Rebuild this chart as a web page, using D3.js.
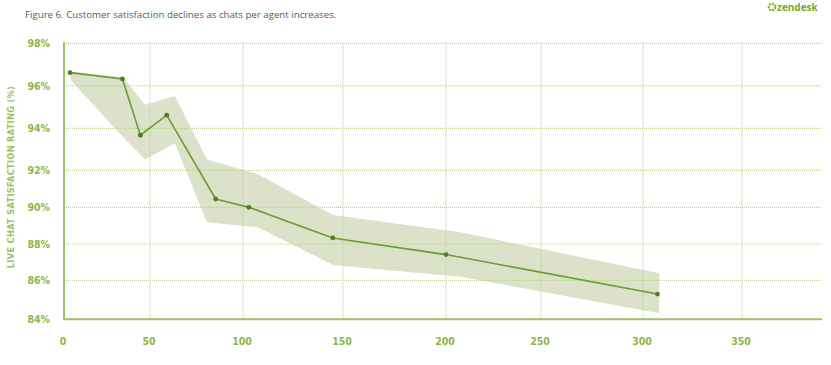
<!DOCTYPE html>
<html>
<head>
<meta charset="utf-8">
<script src="https://cdn.jsdelivr.net/npm/d3@7"></script>
<style>
  html, body { margin: 0; padding: 0; background: #fff; }
  svg { display: block; }
</style>
</head>
<body>
<svg id="chart" width="831" height="365"></svg>
<script>
// ---- data ----
const xTicks = [0, 50, 100, 150, 200, 250, 300, 350];
const yTicks = [84, 86, 88, 90, 92, 94, 96, 98];
const chats = [3.5, 34, 44.4, 59, 85.3, 102.9, 144.9, 200, 307.3];
const satisfaction = [96.62, 96.32, 93.67, 94.62, 90.45, 90.0, 88.33, 87.42, 85.30];
const bandChats = [3.8, 34.3, 47.1, 63.4, 80.6, 107.3, 145, 208.4, 308.2];
const bandHigh = [96.67, 96.40, 95.11, 95.52, 92.52, 91.80, 89.58, 88.62, 86.40];
const bandLow = [96.27, 93.59, 92.51, 93.29, 89.18, 88.91, 86.85, 86.19, 84.31];
const titleText = "Figure 6. Customer satisfaction declines as chats per agent increases.";
const yTitle = "LIVE CHAT SATISFACTION RATING (%)";

// ---- layout ----
const svg = d3.select("#chart");
const plotRight = 822;
const x = d3.scaleLinear().domain(xTicks).range([64, 150, 243, 343, 446, 541, 643, 742]);
const y = d3.scaleLinear().domain(yTicks).range([319.3, 280.5, 244, 207.3, 170.3, 128.3, 85.8, 43.3]);
const x0 = x(0), yTop = y(98), yBot = y(84);

const green = "#8db64a";
const gridColor = "#bcd394";

// band
const bandData = bandChats.map((c, i) => ({c, hi: bandHigh[i], lo: bandLow[i]}));
svg.append("path")
  .datum(bandData)
  .attr("d", d3.area().x(d => x(d.c)).y0(d => y(d.lo)).y1(d => y(d.hi)))
  .attr("fill", "#dce2c9");

// gridlines
const grid = svg.append("g");
grid.selectAll("line.h").data(yTicks.filter(t => t !== 84)).join("line")
  .attr("x1", x0).attr("x2", plotRight)
  .attr("y1", d => y(d)).attr("y2", d => y(d))
  .attr("stroke", gridColor).attr("stroke-width", 1.2).attr("stroke-dasharray", "1,1");
grid.selectAll("line.v").data(xTicks.filter(t => t !== 0)).join("line")
  .attr("x1", d => x(d)).attr("x2", d => x(d))
  .attr("y1", yTop).attr("y2", yBot)
  .attr("stroke", gridColor).attr("stroke-width", 1.2).attr("stroke-dasharray", "1,1");

// axes lines
svg.append("line").attr("x1", x0).attr("x2", x0).attr("y1", yTop - 1).attr("y2", yBot)
  .attr("stroke", "#9cc263").attr("stroke-width", 2);
svg.append("line").attr("x1", x0 - 1).attr("x2", plotRight).attr("y1", yBot).attr("y2", yBot)
  .attr("stroke", "#9cc263").attr("stroke-width", 2);

// tick labels
svg.append("g").selectAll("text").data(yTicks).join("text")
  .attr("x", 50).attr("y", d => y(d)).attr("dy", "0.36em")
  .attr("text-anchor", "end")
  .attr("font-family", "'DejaVu Sans Condensed', 'DejaVu Sans', sans-serif")
  .attr("font-weight", "bold").attr("font-size", 10.5)
  .attr("fill", green)
  .text(d => d + "%");
svg.append("g").selectAll("text").data(xTicks).join("text")
  .attr("x", d => x(d) - 1).attr("y", 345)
  .attr("text-anchor", "middle")
  .attr("font-family", "'DejaVu Sans Condensed', 'DejaVu Sans', sans-serif")
  .attr("font-weight", "bold").attr("font-size", 10.5)
  .attr("fill", green)
  .text(d => d);

// y title
svg.append("text")
  .attr("transform", "translate(14,177) rotate(-90)")
  .attr("text-anchor", "middle")
  .attr("font-family", "'DejaVu Sans Condensed', 'DejaVu Sans', sans-serif")
  .attr("font-weight", "bold").attr("font-size", 9.2)
  .attr("letter-spacing", 0.3)
  .attr("fill", "#9cc263")
  .text(yTitle);

// line + points
const pts = chats.map((c, i) => ({c, v: satisfaction[i]}));
svg.append("path").datum(pts)
  .attr("d", d3.line().x(d => x(d.c)).y(d => y(d.v)))
  .attr("fill", "none").attr("stroke", "#6d9a32").attr("stroke-width", 1.6);
svg.append("g").selectAll("circle").data(pts).join("circle")
  .attr("cx", d => x(d.c)).attr("cy", d => y(d.v)).attr("r", 2.4)
  .attr("fill", "#4f7f1f");

// title
svg.append("text")
  .attr("x", 25).attr("y", 18)
  .attr("font-family", "'Open Sans', sans-serif")
  .attr("font-size", 9.7)
  .attr("fill", "#5a5a5a")
  .text(titleText);

// logo
const logo = svg.append("g").attr("transform", "translate(772,7)");
logo.append("circle").attr("r", 3.3).attr("fill", "none").attr("stroke", "#7aa82a").attr("stroke-width", 2).attr("stroke-dasharray", "2,1");
logo.append("text").attr("x", 5).attr("y", 3.5)
  .attr("font-family", "'Open Sans', sans-serif").attr("font-weight", "bold")
  .attr("font-size", 10).attr("fill", "#7aa82a").text("zendesk");
</script>
</body>
</html>
